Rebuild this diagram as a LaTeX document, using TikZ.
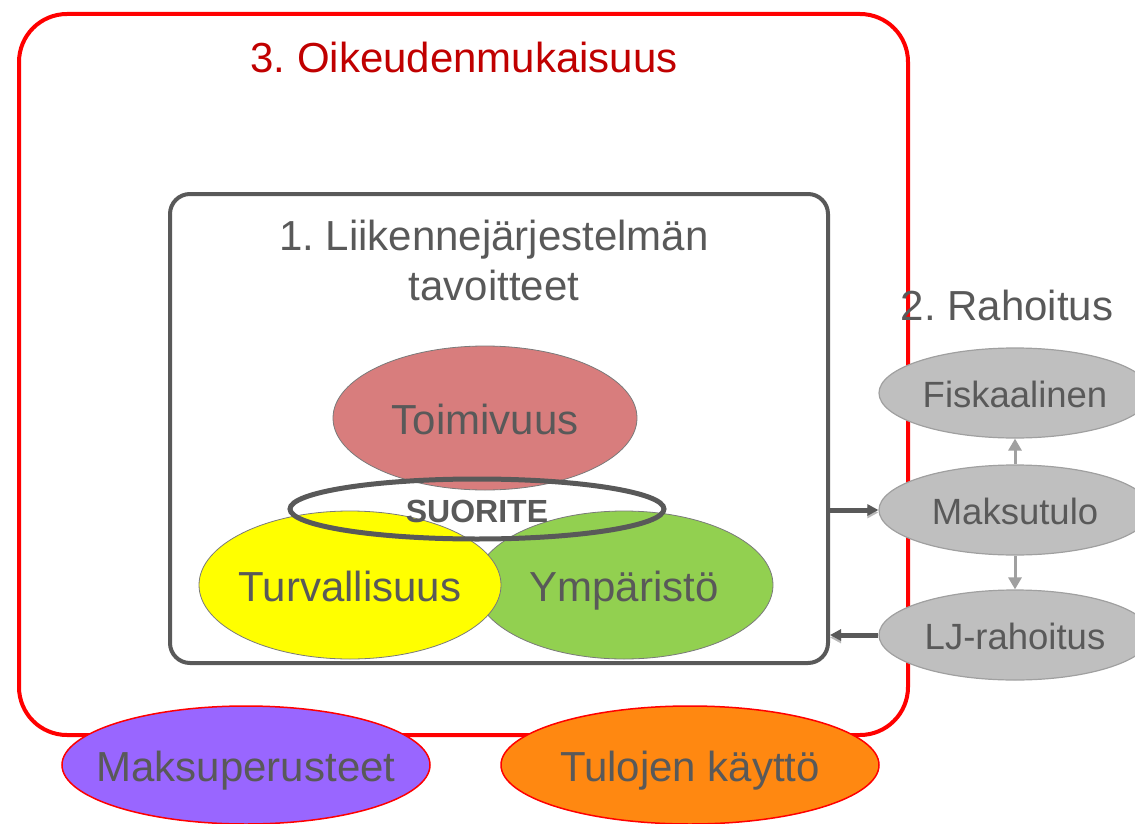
\documentclass[tikz,border=0pt]{standalone}
\usepackage{fontspec}
\setmainfont{Liberation Sans}
\usetikzlibrary{shapes.geometric,arrows.meta}
\definecolor{txtgray}{HTML}{595959}
\definecolor{titlered}{HTML}{C00000}
\definecolor{toimi}{HTML}{D87D7D}
\definecolor{turva}{HTML}{FFFF00}
\definecolor{ymp}{HTML}{92D050}
\definecolor{fundfill}{HTML}{BFBFBF}
\definecolor{fundline}{HTML}{A0A0A0}
\definecolor{maksu}{HTML}{9966FF}
\definecolor{tulot}{HTML}{FF8811}
\definecolor{oikred}{HTML}{FF0000}
\newcommand{\bigtxt}{\fontsize{42}{50}\selectfont}
\newcommand{\midtxt}{\fontsize{36.5}{40}\selectfont}
\newcommand{\lbl}[1]{\makebox[0pt]{#1}}
\frenchspacing

\begin{document}
\begin{tikzpicture}[x=1pt,y=-1pt,
	goal/.style={ellipse,draw=txtgray!80,line width=0.8pt,inner sep=0pt,text=txtgray,font=\bigtxt,text height=38pt,text depth=6pt},
	fund/.style={ellipse,draw=fundline,fill=fundfill,line width=1.2pt,inner sep=0pt,minimum width=272pt,minimum height=90pt,text=txtgray,font=\midtxt,text height=32pt,text depth=4pt},
	base/.style={ellipse,draw=oikred,line width=1.5pt,inner sep=0pt,minimum height=118pt,text=txtgray,font=\bigtxt,text height=38pt,text depth=6pt},
	darrow/.style={-{Triangle[length=11pt,width=11pt]},draw=txtgray,line width=5pt,
		preaction={draw=gray!55,transform canvas={yshift=-2.5pt}}},
	garrow/.style={-{Triangle[length=12pt,width=13pt]},draw=fundline,line width=3pt}]
	\useasboundingbox (0,0) rectangle (1135,824);
	\node (oik) [draw=oikred,line width=4pt,rounded corners=48pt,minimum width=889pt,minimum height=721pt] at (463.5,374.5) {};
	\node (oiktxt) [text=titlered,font=\bigtxt] at (464,57) {3. Oikeudenmukaisuus};
	\node (lj) [draw=txtgray,line width=4pt,rounded corners=20pt,minimum width=658pt,minimum height=469pt] at (499,428.5) {};
	\node (ljtxt) [text=txtgray,font=\bigtxt,align=center] at (494,260) {1. Liikennejärjestelmän\\tavoitteet};
	\node (toimi) [goal,fill=toimi,minimum width=304pt,minimum height=144pt] at (485,418) {\lbl{Toimivuus}};
	\node (ymp) [goal,fill=ymp,minimum width=298pt,minimum height=148pt] at (624,585) {\lbl{Ympäristö}};
	\node (turva) [goal,fill=turva,minimum width=302pt,minimum height=148pt] at (350,585) {\lbl{Turvallisuus}};
	\node (suor) [ellipse,draw=txtgray,line width=5pt,minimum width=374pt,minimum height=60pt] at (477,509) {};
	\node (suortxt) [text=txtgray,font=\fontsize{32}{36}\bfseries] at (477,511) {SUORITE};
	\node (rahtxt) [text=txtgray,font=\bigtxt] at (1007,305) {2. Rahoitus};
	\node (fisk) [fund] at (1015,393) {\lbl{Fiskaalinen}};
	\node (maksutulo) [fund] at (1015,510) {\lbl{Maksutulo}};
	\node (ljr) [fund] at (1015,635) {\lbl{LJ-rahoitus}};
	\draw [garrow] (maksutulo) -- (fisk);
	\draw [garrow] (maksutulo) -- (ljr);
	\draw [darrow] (lj.east |- maksutulo.west) -- (maksutulo.west);
	\draw [darrow] (ljr.west) -- (lj.east |- ljr.west);
	\node (peruste) [base,fill=maksu,minimum width=368pt] at (246,765) {\lbl{Maksuperusteet}};
	\node (kaytto) [base,fill=tulot,minimum width=378pt] at (690,765) {\lbl{Tulojen käyttö}};
\end{tikzpicture}
\end{document}
